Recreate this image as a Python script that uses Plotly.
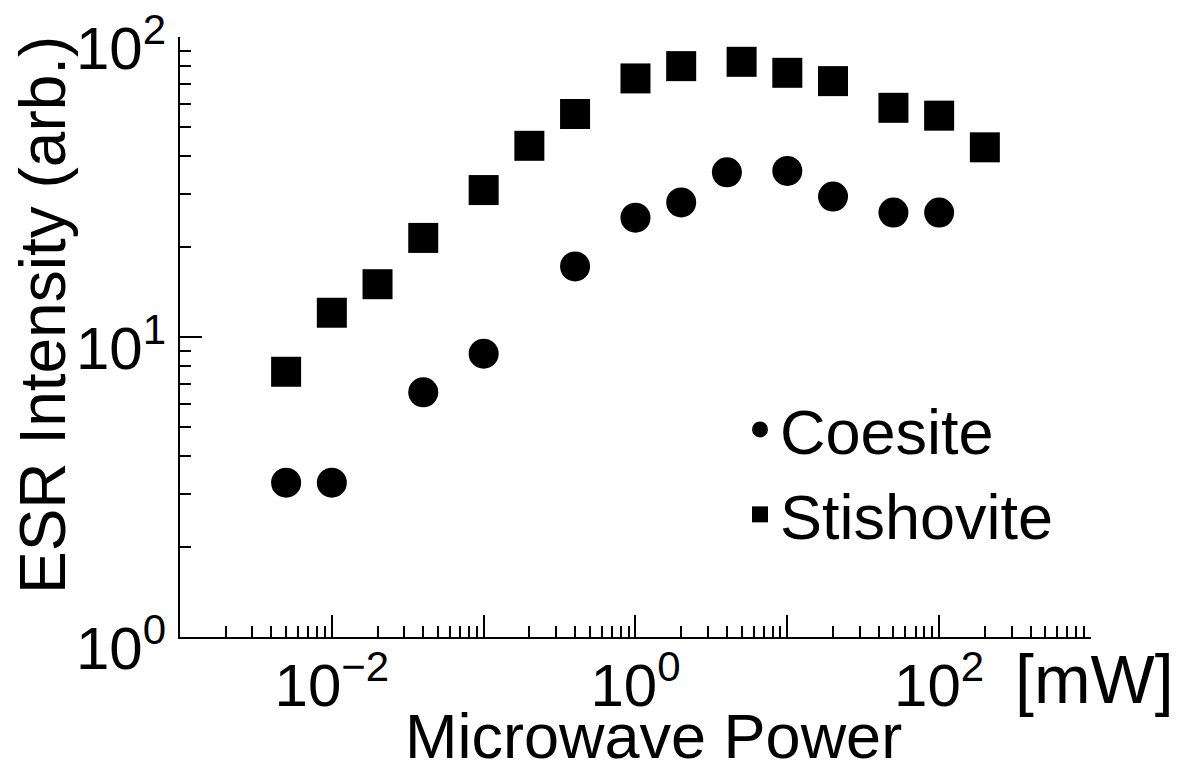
import plotly.graph_objects as go

# Data
coesite_power = [0.005, 0.01, 0.04, 0.1, 0.4, 1, 2, 4, 10, 20, 50, 100]
coesite_esr = [3.27, 3.27, 6.54, 8.8, 17.2, 25.0, 28.1, 35.4, 35.8, 29.4, 26.0, 26.0]

stishovite_power = [0.005, 0.01, 0.02, 0.04, 0.1, 0.2, 0.4, 1, 2, 5, 10, 20, 50, 100, 200]
stishovite_esr = [7.66, 12.05, 15.0, 21.4, 30.9, 43.4, 55.4, 72.8, 80.0, 82.7, 76.0, 71.3, 58.1, 54.7, 42.9]

x_tickvals = [0.001, 0.01, 0.1, 1, 10, 100, 1000]
x_ticktext = [" ", "10<sup>\u22122</sup>", " ", "10<sup>0</sup>", " ", "10<sup>2</sup>", " "]
y_tickvals = [1, 10, 100]
y_ticktext = ["10<sup>0</sup>", "10<sup>1</sup>", "10<sup>2</sup>"]

FONT = "Liberation Sans, Arial, Helvetica, sans-serif"

x_minor = [m * 10.0 ** e for e in range(-3, 3) for m in range(2, 10)]
y_minor = [m * 10.0 ** e for e in range(0, 2) for m in range(2, 10)]

# page body adds an 8px offset; figure coordinates below account for it
W, H = 1181, 765
L, R, T, B = 172, 98, 29, 136
PW = W - L - R
PH = H - T - B


def px_x(sx):
    return (sx - 8 - L) / PW


def px_y(sy):
    return (H - B - (sy - 8)) / PH


fig = go.Figure()
fig.add_trace(go.Scatter(
    x=coesite_power, y=coesite_esr, mode="markers", name="Coesite",
    marker=dict(symbol="circle", size=30, color="black", line=dict(width=0)),
))
fig.add_trace(go.Scatter(
    x=stishovite_power, y=stishovite_esr, mode="markers", name="Stishovite",
    marker=dict(symbol="square", size=30, color="black", line=dict(width=0)),
))

fig.update_layout(
    width=W, height=H,
    margin=dict(l=L, r=R, t=T, b=B, autoexpand=False),
    paper_bgcolor="white", plot_bgcolor="white",
    font=dict(family=FONT, size=60, color="black"),
    showlegend=True,
    legend=dict(
        x=px_x(740), y=px_y(382), xanchor="left", yanchor="top",
        font=dict(family=FONT, size=63, color="black"),
        bgcolor="rgba(0,0,0,0)", borderwidth=0,
        itemsizing="trace", tracegroupgap=0,
    ),
    xaxis=dict(
        type="log", range=[-3, 3.0002], automargin=False,
        showgrid=False, zeroline=False,
        showline=True, linecolor="black", linewidth=2, mirror=False,
        ticks="inside", ticklen=22, tickwidth=2, tickcolor="black",
        tickmode="array", tickvals=x_tickvals, ticktext=x_ticktext,
        tickfont=dict(family=FONT, size=60, color="black"),
        ticklabelstandoff=-5, ticklabeloverflow="allow",
        minor=dict(ticks="inside", ticklen=11, tickwidth=2, tickcolor="black",
                   tickmode="array", tickvals=x_minor, showgrid=False),
    ),
    yaxis=dict(
        type="log", range=[0, 2.0002], automargin=False,
        showgrid=False, zeroline=False,
        showline=True, linecolor="black", linewidth=2, mirror=False,
        ticks="inside", ticklen=22, tickwidth=2, tickcolor="black",
        tickmode="array", tickvals=y_tickvals, ticktext=y_ticktext,
        tickfont=dict(family=FONT, size=60, color="black"),
        ticklabeloverflow="allow", ticklabelshift=11,
        minor=dict(ticks="inside", ticklen=11, tickwidth=2, tickcolor="black",
                   tickmode="array", tickvals=y_minor, showgrid=False),
    ),
    annotations=[
        dict(text="Microwave Power", xref="paper", yref="paper",
             x=px_x(653), y=px_y(736),
             xanchor="center", yanchor="middle", showarrow=False,
             font=dict(family=FONT, size=63, color="black")),
        dict(text="[mW]", xref="paper", yref="paper",
             x=px_x(1094), y=px_y(679),
             xanchor="center", yanchor="middle", showarrow=False,
             font=dict(family=FONT, size=68, color="black")),
        dict(text="ESR Intensity (arb.)", xref="paper", yref="paper",
             x=px_x(43), y=px_y(315), textangle=-90,
             xanchor="center", yanchor="middle", showarrow=False,
             font=dict(family=FONT, size=64, color="black")),
    ],
)

fig.write_html("out.html")
